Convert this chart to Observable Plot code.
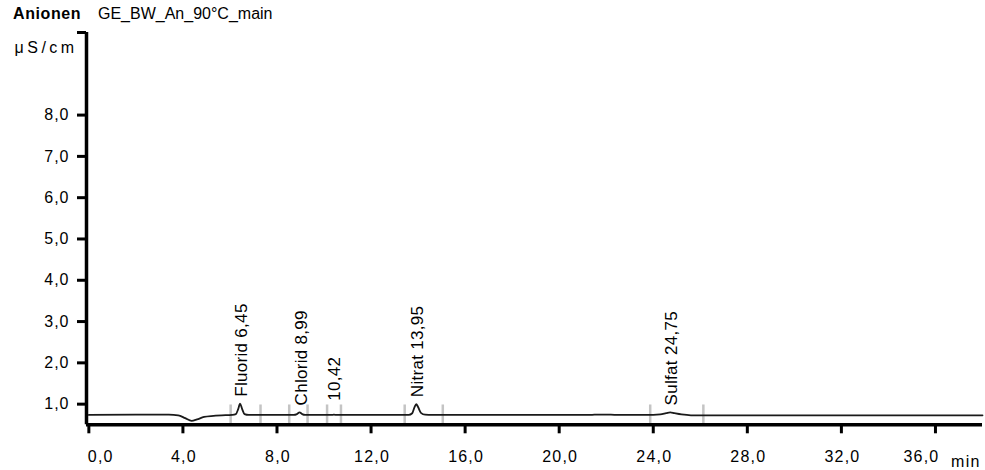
<!DOCTYPE html>
<html>
<head>
<meta charset="utf-8">
<script src="https://cdn.jsdelivr.net/npm/d3@7"></script>
<script src="https://cdn.jsdelivr.net/npm/@observablehq/plot@0.6"></script>
<style>
  html, body { margin: 0; padding: 0; background: #fff; }
  body { width: 985px; height: 470px; position: relative; overflow: hidden; font-family: "Liberation Sans", Arial, sans-serif; color: #000; }
  #header { position: absolute; left: 0; top: 0; width: 985px; height: 28px; }
  #header .t1 { position: absolute; left: 13px; top: 5px; font-size: 16px; font-weight: bold; letter-spacing: 0.6px; }
  #header .t2 { position: absolute; left: 98px; top: 5px; font-size: 16px; }
  #chart { position: absolute; left: 0; top: 28px; }
</style>
</head>
<body>
<div id="header"><span class="t1">Anionen</span><span class="t2">GE_BW_An_90°C_main</span></div>
<div id="chart"></div>
<script>
// Chromatogram signal (time in min, conductivity in µS/cm)
const time   = [0, 2, 3.4, 3.8, 4.1, 4.37, 4.6, 4.9, 5.3, 5.9, 6.1, 6.25, 6.35, 6.43, 6.52, 6.62, 6.8,
                8.7, 8.85, 8.96, 9.07, 9.2, 10.3, 10.42, 10.55, 13.6, 13.75, 13.85, 13.92, 14.0, 14.12, 14.3, 14.6,
                21.3, 21.5, 22.2, 22.5, 24.0, 24.3, 24.55, 24.72, 24.9, 25.2, 25.6, 26.5, 38];
const signal = [0.74, 0.745, 0.745, 0.73, 0.66, 0.595, 0.63, 0.69, 0.715, 0.735, 0.74, 0.76, 0.88, 1.01, 0.88, 0.76, 0.74,
                0.74, 0.76, 0.80, 0.76, 0.74, 0.74, 0.745, 0.74, 0.74, 0.78, 0.93, 1.00, 0.93, 0.79, 0.745, 0.74,
                0.74, 0.745, 0.745, 0.74, 0.74, 0.75, 0.78, 0.80, 0.78, 0.75, 0.73, 0.73, 0.73];

// Peak annotations
const peakNames   = ["Fluorid 6,45", "Chlorid 8,99", "10,42", "Nitrat 13,95", "Sulfat 24,75"];
const peakTimes   = [6.45, 8.99, 10.42, 13.95, 24.75];
const peakHeights = [1.01, 0.80, 0.91, 1.00, 0.80];

// Integration window markers (min)
const markerTimes = [6.03, 7.30, 8.52, 9.30, 10.13, 10.72, 13.43, 15.05, 23.87, 26.13];
const markerTop = 0.98;

// Axes
const xTicks = [0, 4, 8, 12, 16, 20, 24, 28, 32, 36];
const xTickLabels = ["0,0", "4,0", "8,0", "12,0", "16,0", "20,0", "24,0", "28,0", "32,0", "36,0"];
const yTicks = [1, 2, 3, 4, 5, 6, 7, 8];
const yTickLabels = ["1,0", "2,0", "3,0", "4,0", "5,0", "6,0", "7,0", "8,0"];
const xDomain = [-0.1, 38];
const yDomain = [0.5, 10];

const trace = time.map((t, i) => ({t, v: signal[i]}));
const peaks = peakNames.map((name, i) => ({name, t: peakTimes[i], v: peakHeights[i]}));
const xl = xTicks.map((t, i) => ({t, label: xTickLabels[i]}));

const chart = Plot.plot({
  width: 985,
  height: 442,
  marginLeft: 86,
  marginRight: 3,
  marginTop: 4,
  marginBottom: 45.7,
  style: {fontFamily: "'Liberation Sans', Arial, sans-serif", fontSize: "16px", color: "#000", background: "#fff"},
  x: {domain: xDomain},
  y: {domain: yDomain},
  marks: [
    Plot.ruleX(markerTimes, {x: d => d, y1: yDomain[0], y2: markerTop, stroke: "#c4c4c4", strokeWidth: 2.5}),
    Plot.line(trace, {x: "t", y: "v", stroke: "#1a1a1a", strokeWidth: 1.8, curve: "monotone-x"}),
    Plot.text(peaks, {x: "t", y: "v", text: "name", rotate: -90, textAnchor: "start", lineAnchor: "middle",
      dy: -7, dx: 1, fontSize: 17, fill: "#000"}),
    Plot.axisY(yTicks, {tickSize: 9, tickPadding: 8, fontSize: 16, fill: "#000",
      tickFormat: d => yTickLabels[yTicks.indexOf(d)], label: null}),
    Plot.axisY([yDomain[1]], {tickSize: 9, tickFormat: () => "", label: null}),
    Plot.axisX(xTicks, {tickSize: 9, tickFormat: () => "", label: null}),
    Plot.ruleX([xDomain[0]], {strokeWidth: 3.5, stroke: "#000"}),
    Plot.ruleY([yDomain[0]], {strokeWidth: 3.5, stroke: "#000"}),
    Plot.text(xl.slice(0, 1), {x: "t", text: "label", frameAnchor: "bottom", textAnchor: "start", lineAnchor: "middle", dy: 32, dx: -1, fontSize: 16, fill: "#000"}),
    Plot.text(xl.slice(1, -1), {x: "t", text: "label", frameAnchor: "bottom", textAnchor: "middle", lineAnchor: "middle", dy: 32, dx: 1, fontSize: 16, fill: "#000"}),
    Plot.text(xl.slice(-1), {x: "t", text: "label", frameAnchor: "bottom", textAnchor: "end", lineAnchor: "middle", dy: 32, dx: 4, fontSize: 16, fill: "#000"}),
    Plot.text(["min"], {frameAnchor: "bottom-right", textAnchor: "end", lineAnchor: "middle", dy: 37, dx: -2, fontSize: 16, fill: "#000"}),
    Plot.text(["μS/cm"], {frameAnchor: "top-left", textAnchor: "start", lineAnchor: "bottom", dx: -72, dy: 20, fontSize: 16, fill: "#000"})
  ]
});

// Styling tweaks: letter spacing and thick tick strokes as in the reference
d3.select(chart).selectAll("text").each(function() {
  const t = this.textContent;
  const parentLabel = (this.parentNode.getAttribute("aria-label") || "");
  let ls = null;
  if (parentLabel.startsWith("y-axis")) ls = 1;
  else if (peakNames.includes(t)) ls = 0.3;
  else if (t === "μS/cm") ls = 3.5;
  else if (xTickLabels.includes(t) || t === "min") ls = 1.2;
  if (ls !== null) this.style.letterSpacing = ls + "px";
});
d3.select(chart).selectAll('g[aria-label="y-axis tick"], g[aria-label="x-axis tick"]')
  .attr("stroke-width", 3).attr("stroke", "#000");

document.getElementById("chart").appendChild(chart);
</script>
</body>
</html>
